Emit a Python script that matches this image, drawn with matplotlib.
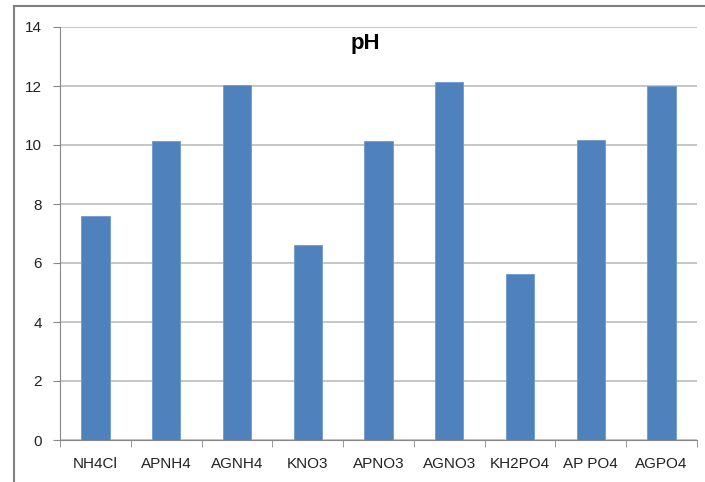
import matplotlib.pyplot as plt
from matplotlib.lines import Line2D

categories = ["NH4Cl", "APNH4", "AGNH4", "KNO3", "APNO3", "AGNO3", "KH2PO4", "AP PO4", "AGPO4"]
ph_values = [7.6, 10.15, 12.03, 6.62, 10.14, 12.13, 5.64, 10.17, 12.0]
y_ticks = [0, 2, 4, 6, 8, 10, 12, 14]

plt.rcParams["font.family"] = ["Liberation Sans", "DejaVu Sans"]

fig = plt.figure(figsize=(7.05, 4.82), dpi=100)
ax = fig.add_axes([60 / 705, 1 - 440 / 482, 637 / 705, 413 / 482])

x = list(range(len(categories)))
ax.bar(x, ph_values, width=0.4, color="#4F81BD", edgecolor="#6f9ad0", linewidth=0.6, zorder=3)

ax.set_xlim(-0.5, len(categories) - 0.5)
ax.set_ylim(0, 14)
ax.set_yticks(y_ticks)
ax.grid(axis="y", color="#bcbcbc", linewidth=1.2, zorder=0)

# category labels without ticks, tick marks between categories
ax.set_xticks(x)
ax.set_xticklabels(categories, fontsize=11, color="#222222")
ax.tick_params(axis="x", length=0, pad=12)
ax.set_xticks([i - 0.5 for i in range(len(categories) + 1)], minor=True)
ax.tick_params(axis="x", which="minor", length=5, color="#888888", direction="out")
ax.tick_params(axis="y", length=5, color="#888888", labelsize=11, labelcolor="#222222", pad=8)

for side in ["top", "right"]:
    ax.spines[side].set_visible(False)
ax.spines["left"].set_color("#888888")
ax.spines["bottom"].set_color("#888888")

fig.text(365 / 705, 1 - 43 / 482, "pH", fontsize=16, fontweight="bold",
         ha="center", va="center", color="black")

# outer chart border (left and top edges visible)
fig.add_artist(Line2D([14 / 705, 14 / 705], [0, 1 - 6 / 482], transform=fig.transFigure,
                      color="#808080", linewidth=1.5))
fig.add_artist(Line2D([14 / 705, 1], [1 - 6 / 482, 1 - 6 / 482], transform=fig.transFigure,
                      color="#808080", linewidth=1.5))

fig.savefig("out.png", dpi=100)
